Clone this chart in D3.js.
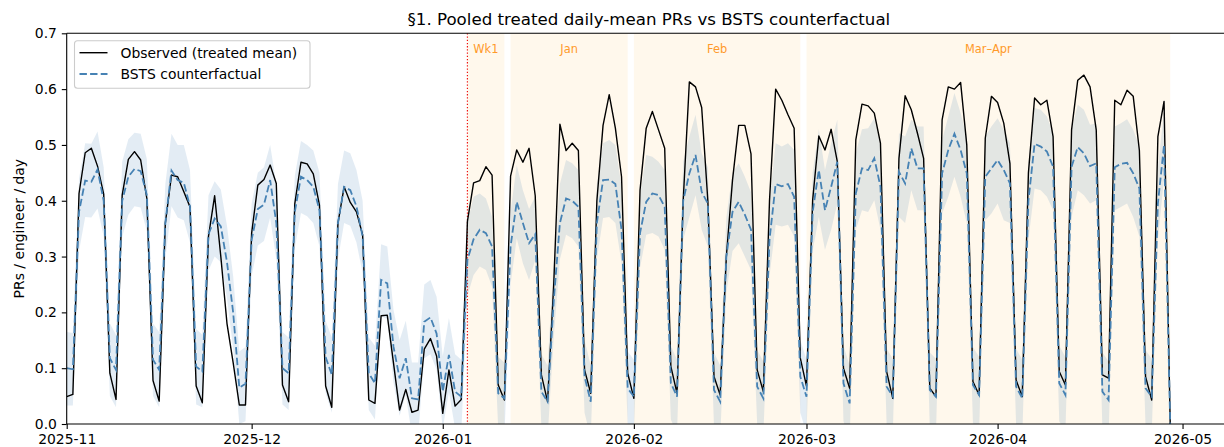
<!DOCTYPE html>
<html><head><meta charset="utf-8">
<script src="https://cdn.jsdelivr.net/npm/d3@7"></script>
<style>
body{margin:0;background:#fff}
text{font-family:"DejaVu Sans","Liberation Sans",sans-serif}
</style>
</head><body>
<svg id="chart" width="1224" height="447"></svg>
<script>
// ---------- data ----------
const startDate = "2025-11-01";   // first daily observation (index 0)
const observed = [
0.049,0.053,0.413,0.486,0.494,0.462,0.412,0.091,0.044,0.410,
0.474,0.488,0.473,0.404,0.078,0.041,0.360,0.446,0.443,0.416,
0.389,0.068,0.038,0.336,0.409,0.300,0.180,0.110,0.034,0.034,
0.342,0.428,0.438,0.464,0.431,0.070,0.040,0.395,0.469,0.466,
0.448,0.392,0.068,0.030,0.360,0.425,0.397,0.380,0.339,0.043,
0.037,0.194,0.195,0.110,0.025,0.062,0.021,0.025,0.134,0.153,
0.122,0.019,0.097,0.032,0.044,0.363,0.432,0.436,0.461,0.446,
0.070,0.043,0.444,0.491,0.469,0.494,0.409,0.088,0.040,0.250,
0.537,0.490,0.503,0.490,0.097,0.055,0.400,0.535,0.590,0.530,
0.443,0.091,0.046,0.419,0.530,0.560,0.527,0.494,0.103,0.055,
0.400,0.613,0.604,0.567,0.400,0.085,0.052,0.300,0.437,0.535,
0.535,0.484,0.097,0.058,0.400,0.600,0.580,0.554,0.530,0.118,
0.068,0.401,0.516,0.491,0.528,0.470,0.100,0.064,0.509,0.573,
0.570,0.557,0.503,0.094,0.046,0.476,0.588,0.563,0.521,0.476,
0.064,0.049,0.545,0.604,0.600,0.612,0.500,0.076,0.052,0.512,
0.587,0.576,0.539,0.467,0.079,0.049,0.450,0.584,0.572,0.580,
0.515,0.094,0.070,0.527,0.616,0.625,0.604,0.527,0.088,0.082,
0.580,0.572,0.598,0.587,0.490,0.085,0.043,0.515,0.578,0.000
];
const counterfactual = [
0.100,0.098,0.380,0.436,0.434,0.456,0.400,0.118,0.097,0.400,
0.443,0.457,0.453,0.410,0.115,0.097,0.360,0.454,0.437,0.432,
0.390,0.103,0.094,0.340,0.368,0.354,0.290,0.200,0.065,0.072,
0.330,0.385,0.393,0.437,0.360,0.100,0.091,0.380,0.443,0.437,
0.425,0.383,0.120,0.088,0.360,0.425,0.419,0.390,0.336,0.091,
0.073,0.258,0.252,0.139,0.082,0.118,0.046,0.044,0.183,0.191,
0.162,0.058,0.124,0.058,0.049,0.294,0.331,0.348,0.342,0.318,
0.055,0.046,0.318,0.398,0.360,0.324,0.340,0.058,0.040,0.220,
0.360,0.404,0.400,0.389,0.085,0.040,0.360,0.437,0.438,0.430,
0.348,0.064,0.049,0.342,0.398,0.413,0.410,0.389,0.073,0.049,
0.400,0.449,0.482,0.416,0.395,0.061,0.040,0.300,0.380,0.398,
0.375,0.348,0.067,0.046,0.330,0.430,0.426,0.430,0.407,0.085,
0.049,0.380,0.455,0.383,0.425,0.470,0.073,0.037,0.413,0.458,
0.455,0.476,0.425,0.067,0.049,0.452,0.431,0.494,0.458,0.458,
0.061,0.049,0.449,0.491,0.520,0.491,0.449,0.070,0.052,0.443,
0.458,0.473,0.455,0.431,0.067,0.046,0.400,0.502,0.497,0.488,
0.461,0.073,0.052,0.461,0.496,0.485,0.462,0.467,0.058,0.043,
0.460,0.466,0.468,0.449,0.422,0.064,0.049,0.395,0.500,0.000
];
const ciUpper = [
0.165,0.163,0.440,0.503,0.502,0.524,0.460,0.180,0.160,0.470,
0.510,0.522,0.520,0.475,0.180,0.165,0.430,0.520,0.500,0.500,
0.455,0.170,0.160,0.410,0.435,0.420,0.355,0.265,0.130,0.138,
0.395,0.450,0.460,0.500,0.430,0.165,0.155,0.445,0.507,0.500,
0.490,0.450,0.185,0.155,0.430,0.490,0.485,0.455,0.400,0.155,
0.140,0.322,0.318,0.205,0.150,0.185,0.110,0.110,0.250,0.258,
0.228,0.122,0.190,0.125,0.115,0.360,0.407,0.413,0.404,0.371,
0.120,0.110,0.380,0.464,0.419,0.385,0.407,0.125,0.105,0.290,
0.430,0.473,0.467,0.455,0.150,0.105,0.430,0.503,0.509,0.500,
0.425,0.130,0.115,0.410,0.482,0.479,0.470,0.455,0.140,0.115,
0.470,0.515,0.554,0.485,0.460,0.128,0.105,0.370,0.450,0.467,
0.443,0.415,0.133,0.112,0.400,0.503,0.497,0.503,0.491,0.150,
0.115,0.450,0.528,0.455,0.503,0.545,0.140,0.105,0.485,0.528,
0.530,0.548,0.497,0.135,0.117,0.521,0.515,0.545,0.533,0.533,
0.128,0.117,0.509,0.551,0.593,0.557,0.515,0.138,0.120,0.515,
0.533,0.548,0.527,0.503,0.135,0.115,0.470,0.566,0.563,0.551,
0.521,0.140,0.120,0.527,0.572,0.563,0.536,0.539,0.128,0.112,
0.533,0.539,0.546,0.527,0.497,0.132,0.117,0.460,0.560,0.020
];
const ciLower = [
0.033,0.033,0.310,0.371,0.370,0.386,0.336,0.050,0.030,0.335,
0.375,0.390,0.388,0.345,0.050,0.030,0.295,0.390,0.370,0.365,
0.325,0.035,0.030,0.275,0.300,0.290,0.225,0.135,0.000,0.005,
0.265,0.320,0.328,0.370,0.295,0.035,0.025,0.315,0.378,0.372,
0.360,0.318,0.055,0.020,0.295,0.360,0.355,0.325,0.270,0.025,
0.008,0.193,0.188,0.075,0.015,0.052,-0.020,-0.022,0.118,0.125,
0.097,-0.008,0.058,-0.008,-0.016,0.230,0.267,0.282,0.276,0.246,
-0.010,-0.020,0.250,0.333,0.288,0.258,0.294,-0.007,-0.025,0.155,
0.295,0.339,0.333,0.318,0.020,-0.025,0.295,0.369,0.371,0.360,
0.288,-0.002,-0.017,0.280,0.339,0.342,0.336,0.312,0.008,-0.017,
0.330,0.371,0.410,0.348,0.318,-0.005,-0.026,0.235,0.310,0.324,
0.300,0.276,0.000,-0.020,0.265,0.357,0.354,0.357,0.336,0.020,
-0.017,0.310,0.371,0.312,0.348,0.395,0.005,-0.030,0.348,0.383,
0.380,0.401,0.348,0.000,-0.017,0.371,0.360,0.419,0.383,0.383,
-0.005,-0.017,0.377,0.407,0.443,0.407,0.360,0.002,-0.015,0.365,
0.377,0.395,0.365,0.360,-0.002,-0.022,0.330,0.422,0.419,0.407,
0.383,0.005,-0.015,0.371,0.419,0.410,0.395,0.401,-0.010,-0.025,
0.383,0.389,0.395,0.371,0.336,-0.004,-0.018,0.330,0.440,-0.020
];
const spanLabels = ["Wk1","Jan","Feb","Mar\u2013Apr"];
const spanStarts = ["2026-01-05","2026-01-12","2026-02-01","2026-03-01"];
const spanEnds   = ["2026-01-11","2026-01-31","2026-02-28","2026-04-29"];
const interventionDate = "2026-01-05";
const xTickLabels = ["2025-11","2025-12","2026-01","2026-02","2026-03","2026-04","2026-05"];
const yTickValues = [0.0,0.1,0.2,0.3,0.4,0.5,0.6,0.7];
const titleText = "\u00a71. Pooled treated daily-mean PRs vs BSTS counterfactual";
const yLabelText = "PRs / engineer / day";
const legendLabels = ["Observed (treated mean)","BSTS counterfactual"];

// ---------- layout ----------
const W = 1224, H = 447;
const mLeft = 66.7, mRight = 1231, mTop = 33.3, mBottom = 424;
const parse = d3.utcParse("%Y-%m-%d");
const t0 = parse(startDate);
const dates = observed.map((_, i) => d3.utcDay.offset(t0, i));
const xEnd = new Date(t0.getTime() + 188.86 * 864e5);

const x = d3.scaleUtc().domain([t0, xEnd]).range([mLeft, mRight]);
const y = d3.scaleLinear().domain([0, 0.7]).range([mBottom, mTop]);

const svg = d3.select("#chart");
svg.append("rect").attr("width", W).attr("height", H).attr("fill", "#fff");

svg.append("defs").append("clipPath").attr("id", "plotclip")
  .append("rect").attr("x", mLeft).attr("y", mTop).attr("width", mRight - mLeft).attr("height", mBottom - mTop);

const plot = svg.append("g").attr("clip-path", "url(#plotclip)");

// spans
spanLabels.forEach((lab, i) => {
  const x0 = x(parse(spanStarts[i])), x1 = x(parse(spanEnds[i]));
  plot.append("rect").attr("x", x0).attr("y", mTop).attr("width", x1 - x0).attr("height", mBottom - mTop)
    .attr("fill", "rgb(255,165,0)").attr("fill-opacity", 0.075);
});

// CI band
const rows = dates.map((d, i) => ({d, o: observed[i], c: counterfactual[i], lo: ciLower[i], hi: ciUpper[i]}));
plot.append("path").datum(rows)
  .attr("d", d3.area().x(r => x(r.d)).y0(r => y(r.lo)).y1(r => y(r.hi)))
  .attr("fill", "steelblue").attr("fill-opacity", 0.15).attr("stroke", "none");

// intervention line
plot.append("line").attr("x1", x(parse(interventionDate))).attr("x2", x(parse(interventionDate)))
  .attr("y1", mTop).attr("y2", mBottom).attr("stroke", "#ee1111").attr("stroke-width", 1.2)
  .attr("stroke-dasharray", "1.3,1.9");

// observed
plot.append("path").datum(rows)
  .attr("d", d3.line().x(r => x(r.d)).y(r => y(r.o)))
  .attr("fill", "none").attr("stroke", "#000").attr("stroke-width", 1.4).attr("stroke-linejoin", "round");

// counterfactual
plot.append("path").datum(rows)
  .attr("d", d3.line().x(r => x(r.d)).y(r => y(r.c)))
  .attr("fill", "none").attr("stroke", "#4682b4").attr("stroke-width", 1.8)
  .attr("stroke-dasharray", "7.4,3.2");

// span labels
spanLabels.forEach((lab, i) => {
  const x0 = x(parse(spanStarts[i])), x1 = x(parse(spanEnds[i]));
  svg.append("text").attr("x", (x0 + x1) / 2).attr("y", 53).attr("text-anchor", "middle")
    .attr("font-size", "11.4px").attr("fill", "#ff9a2a").text(lab);
});

// axes
const fs = "13.9px";
const xAxis = svg.append("g").attr("transform", `translate(0,${mBottom})`)
  .call(d3.axisBottom(x)
    .tickValues(xTickLabels.map(s => parse(s + "-01")))
    .tickFormat(d3.utcFormat("%Y-%m")).tickSizeInner(4.9).tickSizeOuter(0).tickPadding(4.9));
const yAxis = svg.append("g").attr("transform", `translate(${mLeft},0)`)
  .call(d3.axisLeft(y).tickValues(yTickValues).tickFormat(d3.format(".1f"))
    .tickSizeInner(4.9).tickSizeOuter(0).tickPadding(4.9));
[xAxis, yAxis].forEach(g => {
  g.selectAll("text").attr("font-size", fs).attr("fill", "#000").style("font-family", '"DejaVu Sans",sans-serif');
  g.selectAll("line").attr("stroke", "#000").attr("stroke-width", 1.1);
  g.select(".domain").remove();
});

// spines
svg.append("line").attr("x1", mLeft).attr("x2", mRight).attr("y1", mBottom).attr("y2", mBottom).attr("stroke", "#000").attr("stroke-width", 1.1);
svg.append("line").attr("x1", mLeft).attr("x2", mRight).attr("y1", mTop).attr("y2", mTop).attr("stroke", "#000").attr("stroke-width", 1.1);
svg.append("line").attr("x1", mLeft).attr("x2", mLeft).attr("y1", mTop).attr("y2", mBottom).attr("stroke", "#000").attr("stroke-width", 1.1);

// title
svg.append("text").attr("x", (mLeft + mRight) / 2).attr("y", 24.5).attr("text-anchor", "middle")
  .attr("font-size", "16.67px").attr("fill", "#000").text(titleText);

// y label
svg.append("text").attr("transform", `translate(24,${(mTop + mBottom) / 2}) rotate(-90)`)
  .attr("text-anchor", "middle").attr("font-size", fs).attr("fill", "#000").text(yLabelText);

// legend
const lg = svg.append("g");
lg.append("rect").attr("x", 74.5).attr("y", 40.8).attr("width", 235.5).attr("height", 47.5).attr("rx", 3)
  .attr("fill", "#fff").attr("fill-opacity", 0.8).attr("stroke", "#ccc").attr("stroke-width", 1.1);
const legendStyles = [{stroke: "#000", w: 1.4, dash: null}, {stroke: "#4682b4", w: 1.8, dash: "7.4,3.2"}];
legendLabels.forEach((lab, i) => {
  const cy = 52.7 + i * 21.3;
  lg.append("line").attr("x1", 79.5).attr("x2", 107.5).attr("y1", cy).attr("y2", cy)
    .attr("stroke", legendStyles[i].stroke).attr("stroke-width", legendStyles[i].w)
    .attr("stroke-dasharray", legendStyles[i].dash);
  lg.append("text").attr("x", 120.5).attr("y", cy + 5).attr("font-size", fs).attr("fill", "#000").text(lab);
});
</script>
</body></html>
